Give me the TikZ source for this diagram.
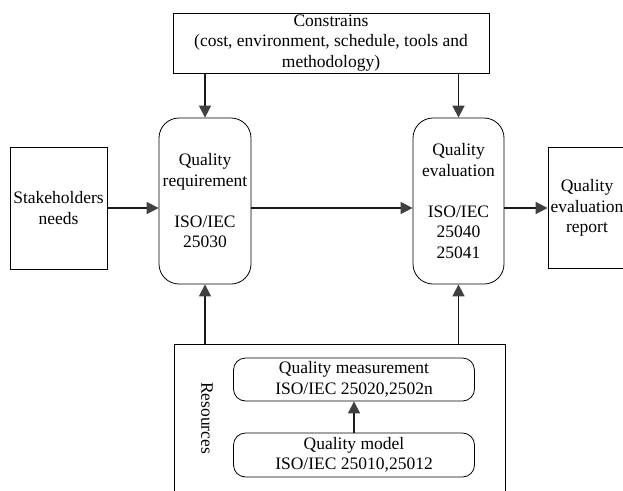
\documentclass[tikz,border=0pt]{standalone}
\usepackage{fontspec}
\setmainfont{Liberation Serif}
\usetikzlibrary{arrows.meta}
\definecolor{arrowgray}{RGB}{64,64,64}
\begin{document}
\begin{tikzpicture}[x=1pt,y=1pt,
  box/.style={draw=black, line width=0.8pt, inner sep=0pt, align=center,
              font=\fontsize{17.5}{20.5}\selectfont},
  rbox/.style={box, rounded corners=20pt},
  sbox/.style={box, rounded corners=12pt},
  conn/.style={line width=1.6pt, draw=black!90,
               -{Triangle[length=12pt,width=12pt,fill=arrowgray,color=arrowgray]}},
  lbl/.style={inner sep=0pt, font=\fontsize{17.5}{20.5}\selectfont}
]
\useasboundingbox (0,0) rectangle (623,-490);
\clip (0,0) rectangle (623,-490);

\node[box, minimum width=316pt, minimum height=60pt] (cons) at (331,-43)
  {Constrains\\ (cost, environment, schedule, tools and\\methodology)};
\node[rbox, minimum width=92pt, minimum height=166pt] (qr) at (205,-201)
  {Quality\\requirement\\[20.5pt]ISO/IEC\\25030};
\node[rbox, minimum width=91pt, minimum height=166pt] (qe) at (458.5,-201)
  {Quality\\evaluation\\[20.5pt]ISO/IEC\\25040\\25041};
\node[box, minimum width=97pt, minimum height=122pt] (sh) at (58.5,-208)
  {Stakeholders\\needs};
\node[box, minimum width=78pt, minimum height=121pt] (rep) at (587,-208)
  {Quality\\evaluation\\report};
\node[box, minimum width=331pt, minimum height=166pt] (res) at (339.5,-427) {};
\node[lbl, rotate=-90] (restext) at (207,-418) {Resources};
\node[sbox, minimum width=241pt, minimum height=43pt] (qm) at (354,-379.5)
  {Quality measurement\\ISO/IEC 25020,2502n};
\node[sbox, minimum width=241pt, minimum height=44pt] (qmod) at (354,-455)
  {Quality model\\ISO/IEC 25010,25012};

\draw[conn] (cons.south -| qr.north) -- (qr.north);
\draw[conn] (cons.south -| qe.north) -- (qe.north);
\draw[conn] (sh.east) -- (sh.east -| qr.west);
\draw[conn] (qr.east |- sh.east) -- (qe.west |- sh.east);
\draw[conn] (qe.east |- rep.west) -- (rep.west);
\draw[conn] (res.north -| qr.south) -- (qr.south);
\draw[conn] (res.north -| qe.south) -- (qe.south);
\draw[conn] (qmod.north) -- (qm.south);
\end{tikzpicture}
\end{document}
